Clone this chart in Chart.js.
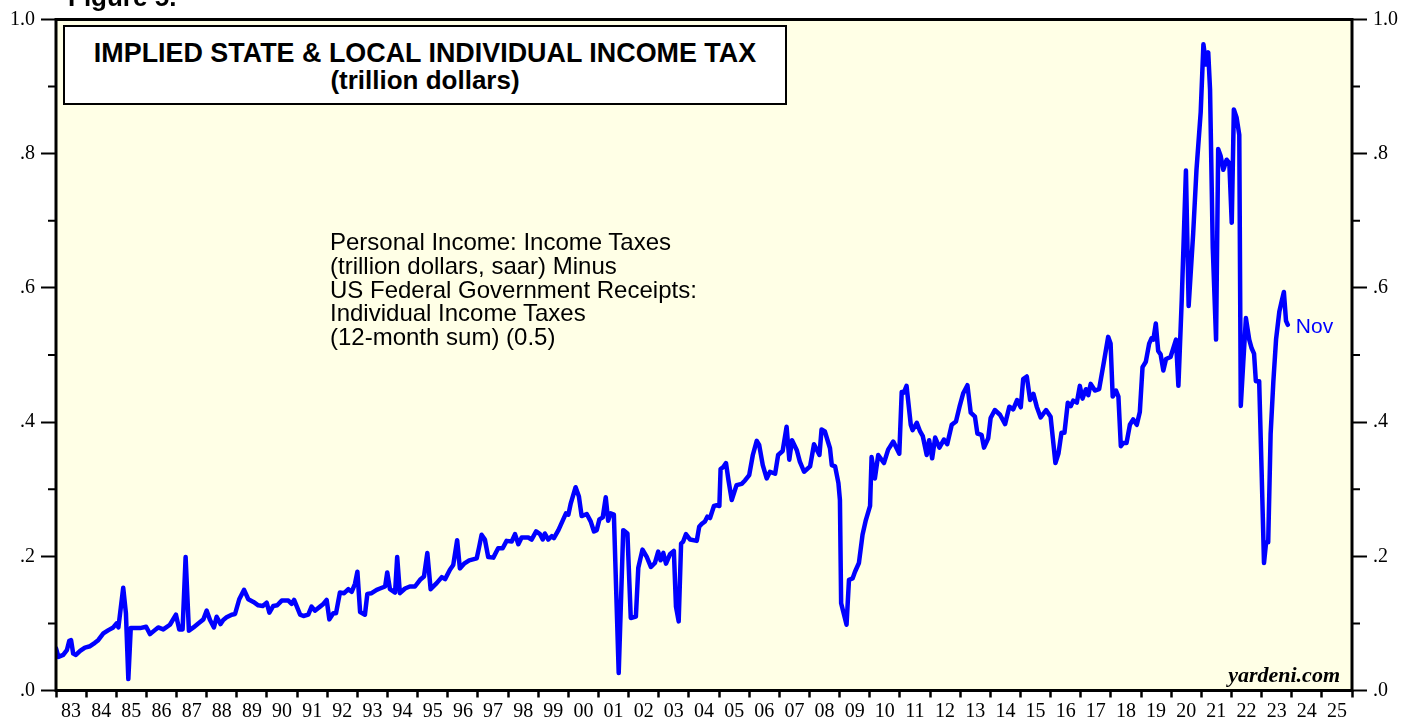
<!DOCTYPE html>
<html>
<head>
<meta charset="utf-8">
<title>Implied State & Local Individual Income Tax</title>
<script src="https://cdn.jsdelivr.net/npm/chart.js@4.4.1/dist/chart.umd.min.js"></script>
<style>
  html, body { margin: 0; padding: 0; background: #fff; }
  #wrap { position: relative; width: 1403px; height: 721px; overflow: hidden; }
  #chart { position: absolute; left: 0; top: 0; }
  .figure-label {
    position: absolute; left: 68px; top: -16px;
    font: bold 26px "Liberation Sans", Arial, sans-serif; line-height: 26px; color: #000;
  }
  .title-box {
    position: absolute; left: 63px; top: 25px; width: 724px; height: 80px;
    box-sizing: border-box; border: 2px solid #000; background: #fff;
    text-align: center; padding-top: 12.5px;
    font: bold 26px "Liberation Sans", Arial, sans-serif; line-height: 27px; color: #000;
  }
  .title-box .main { font-size: 26.9px; }
  .note {
    position: absolute; left: 330px; top: 230px;
    font: 24px "Liberation Sans", Arial, sans-serif; line-height: 23.8px; color: #000;
  }
  .source {
    position: absolute; right: 63px; top: 664px;
    font: italic bold 22px "Liberation Serif", "Times New Roman", serif; line-height: 22px; color: #000;
  }
</style>
</head>
<body>
<div id="wrap">
  <canvas id="chart" width="1403" height="721"></canvas>
  <div class="figure-label">Figure 5.</div>
  <div class="title-box"><span class="main">IMPLIED STATE &amp; LOCAL INDIVIDUAL INCOME TAX</span><br>(trillion dollars)</div>
  <div class="note">Personal Income: Income Taxes<br>(trillion dollars, saar) Minus<br>US Federal Government Receipts:<br>Individual Income Taxes<br>(12-month sum) (0.5)</div>
  <div class="source">yardeni.com</div>
</div>
<script>
// ----- DATA -----
// dates as decimal years, values in trillion dollars
const years = [
  1983.00,1983.08,1983.24,1983.36,1983.44,1983.50,1983.57,1983.66,1983.80,1983.96,
  1984.13,1984.29,1984.40,1984.57,1984.74,1984.90,1985.01,1985.07,1985.23,1985.32,
  1985.40,1985.48,1985.62,1985.79,1985.99,1986.12,1986.28,1986.39,1986.56,1986.78,
  1986.98,1987.09,1987.20,1987.30,1987.41,1987.56,1987.72,1987.89,1988.00,1988.11,
  1988.24,1988.33,1988.46,1988.55,1988.66,1988.83,1988.94,1989.08,1989.24,1989.38,
  1989.55,1989.71,1989.86,1989.99,1990.08,1990.21,1990.34,1990.49,1990.71,1990.82,
  1990.90,1991.10,1991.21,1991.37,1991.48,1991.59,1991.76,1991.87,1991.98,1992.07,
  1992.20,1992.29,1992.42,1992.56,1992.70,1992.81,1992.92,1993.00,1993.09,1993.25,
  1993.33,1993.47,1993.64,1993.75,1993.92,1993.99,1994.08,1994.25,1994.32,1994.41,
  1994.58,1994.74,1994.91,1995.08,1995.21,1995.32,1995.43,1995.63,1995.80,1995.91,
  1996.07,1996.18,1996.31,1996.40,1996.54,1996.71,1996.96,1997.04,1997.12,1997.23,
  1997.34,1997.51,1997.67,1997.82,1997.95,1998.12,1998.23,1998.34,1998.45,1998.67,
  1998.78,1998.93,1999.06,1999.15,1999.22,1999.33,1999.45,1999.52,1999.67,1999.83,
  1999.92,2000.00,2000.08,2000.24,2000.35,2000.44,2000.61,2000.74,2000.85,2000.94,
  2001.03,2001.14,2001.24,2001.32,2001.40,2001.51,2001.67,2001.82,2001.96,2002.07,
  2002.24,2002.32,2002.46,2002.60,2002.74,2002.87,2002.98,2003.06,2003.15,2003.24,
  2003.37,2003.50,2003.57,2003.66,2003.74,2003.81,2003.90,2004.04,2004.26,2004.34,
  2004.42,2004.53,2004.61,2004.70,2004.83,2004.92,2005.01,2005.05,2005.14,2005.23,
  2005.31,2005.42,2005.58,2005.75,2005.86,2006.00,2006.12,2006.25,2006.33,2006.45,
  2006.58,2006.69,2006.86,2006.96,2007.11,2007.24,2007.33,2007.42,2007.58,2007.68,
  2007.82,2008.02,2008.15,2008.33,2008.40,2008.51,2008.68,2008.74,2008.85,2008.96,
  2009.01,2009.05,2009.23,2009.31,2009.43,2009.51,2009.64,2009.76,2009.87,2010.01,
  2010.06,2010.17,2010.28,2010.47,2010.61,2010.78,2010.98,2011.06,2011.13,2011.22,
  2011.36,2011.42,2011.56,2011.67,2011.76,2011.89,2011.97,2012.07,2012.17,2012.31,
  2012.46,2012.57,2012.72,2012.86,2012.99,2013.10,2013.24,2013.35,2013.49,2013.57,
  2013.71,2013.79,2013.93,2014.01,2014.15,2014.32,2014.49,2014.63,2014.76,2014.89,
  2015.01,2015.09,2015.21,2015.32,2015.43,2015.54,2015.67,2015.85,2016.00,2016.16,
  2016.26,2016.36,2016.46,2016.57,2016.67,2016.75,2016.87,2016.97,2017.06,2017.17,
  2017.25,2017.33,2017.47,2017.61,2017.77,2017.91,2017.99,2018.06,2018.17,2018.25,
  2018.33,2018.41,2018.52,2018.63,2018.74,2018.86,2018.96,2019.05,2019.16,2019.27,
  2019.35,2019.41,2019.49,2019.57,2019.65,2019.74,2019.83,2019.98,2020.16,2020.24,
  2020.35,2020.49,2020.58,2020.73,2020.84,2020.98,2021.07,2021.16,2021.23,2021.29,
  2021.38,2021.49,2021.56,2021.64,2021.73,2021.84,2021.93,2022.01,2022.08,2022.17,
  2022.26,2022.31,2022.39,2022.48,2022.59,2022.67,2022.75,2022.81,2022.92,2023.00,
  2023.08,2023.15,2023.22,2023.30,2023.39,2023.48,2023.59,2023.67,2023.74,2023.81,
  2023.87
];

const taxValues = [
  0.063,0.050,0.053,0.060,0.074,0.075,0.055,0.053,0.059,0.064,
  0.066,0.071,0.075,0.085,0.090,0.094,0.100,0.094,0.153,0.115,
  0.017,0.093,0.093,0.093,0.095,0.084,0.090,0.094,0.091,0.098,
  0.113,0.091,0.091,0.199,0.089,0.094,0.100,0.106,0.119,0.105,
  0.094,0.110,0.099,0.105,0.109,0.113,0.114,0.136,0.150,0.136,
  0.132,0.127,0.126,0.131,0.116,0.126,0.127,0.134,0.134,0.129,
  0.135,0.113,0.111,0.113,0.125,0.119,0.125,0.129,0.135,0.106,
  0.115,0.115,0.146,0.145,0.151,0.147,0.159,0.177,0.117,0.113,
  0.144,0.145,0.150,0.152,0.155,0.176,0.151,0.146,0.199,0.145,
  0.152,0.155,0.155,0.165,0.170,0.205,0.151,0.160,0.169,0.166,
  0.180,0.187,0.224,0.182,0.189,0.194,0.197,0.214,0.232,0.225,
  0.199,0.198,0.212,0.212,0.223,0.222,0.233,0.218,0.228,0.228,
  0.225,0.237,0.233,0.225,0.234,0.225,0.230,0.227,0.239,0.255,
  0.264,0.262,0.279,0.303,0.289,0.260,0.263,0.252,0.237,0.239,
  0.255,0.258,0.288,0.253,0.264,0.262,0.026,0.239,0.234,0.108,
  0.110,0.183,0.210,0.199,0.184,0.190,0.207,0.194,0.205,0.189,
  0.203,0.208,0.125,0.103,0.219,0.222,0.233,0.225,0.223,0.244,
  0.248,0.252,0.259,0.257,0.275,0.276,0.275,0.330,0.333,0.339,
  0.314,0.284,0.306,0.308,0.313,0.321,0.351,0.372,0.366,0.336,
  0.316,0.326,0.323,0.351,0.357,0.393,0.344,0.373,0.358,0.341,
  0.326,0.334,0.367,0.351,0.389,0.386,0.361,0.336,0.334,0.309,
  0.284,0.130,0.098,0.165,0.167,0.177,0.190,0.232,0.254,0.275,
  0.348,0.316,0.351,0.339,0.359,0.371,0.353,0.445,0.444,0.454,
  0.396,0.388,0.399,0.386,0.379,0.351,0.373,0.346,0.377,0.362,
  0.374,0.367,0.396,0.401,0.425,0.443,0.455,0.414,0.408,0.383,
  0.381,0.362,0.376,0.406,0.418,0.411,0.397,0.423,0.419,0.433,
  0.422,0.464,0.468,0.433,0.442,0.423,0.407,0.418,0.408,0.339,
  0.353,0.384,0.384,0.429,0.424,0.432,0.429,0.454,0.435,0.449,
  0.440,0.457,0.447,0.449,0.490,0.527,0.517,0.438,0.447,0.438,
  0.364,0.369,0.369,0.396,0.404,0.396,0.415,0.482,0.490,0.517,
  0.525,0.523,0.547,0.506,0.501,0.477,0.494,0.497,0.523,0.454,
  0.581,0.775,0.573,0.681,0.776,0.862,0.963,0.933,0.951,0.896,
  0.660,0.523,0.807,0.797,0.776,0.791,0.786,0.697,0.866,0.854,
  0.828,0.424,0.487,0.555,0.523,0.510,0.502,0.461,0.461,0.329,
  0.190,0.221,0.221,0.382,0.460,0.523,0.565,0.581,0.594,0.551,
  0.545
];

const lastLabel = 'Nov';

// AXIS TICKS
const xFirstYear = 1983;
const xLastYear = 2026;
const xYearLabels = ['83','84','85','86','87','88','89','90','91','92','93','94','95','96','97',
  '98','99','00','01','02','03','04','05','06','07','08','09','10','11','12','13','14','15',
  '16','17','18','19','20','21','22','23','24','25'];
const yTickValues = [0, 0.1, 0.2, 0.3, 0.4, 0.5, 0.6, 0.7, 0.8, 0.9, 1.0];
const yTickLabels = ['.0', '.2', '.4', '.6', '.8', '1.0'];

// ----- STYLE -----
const LINE_BLUE = '#0000FF';
const PLOT_BG = '#FFFFE6';
const tickFont = { family: '"Liberation Serif", "Times New Roman", serif', size: 20 };

// x ticks every half year: integers carry the tick mark, half years carry the label
function buildYearTicks(scale) {
    const ticks = [];
    for (let v = xFirstYear; v <= xLastYear; v += 0.5) ticks.push({ value: v });
    scale.ticks = ticks;
}

function buildValueTicks(scale) {
    scale.ticks = yTickValues.map(v => ({ value: v }));
}

function valueAxis(position, width) {
    return {
        type: 'linear',
        position: position,
        min: 0,
        max: 1,
        afterBuildTicks: buildValueTicks,
        afterFit: s => { s.width = width; },
        border: { display: false },
        grid: {
            drawOnChartArea: false,
            drawTicks: true,
            tickLength: 15,
            tickWidth: 2,
            tickColor: c => (c.index % 2 === 0 ? '#000' : 'rgba(0,0,0,0)')
        },
        ticks: {
            autoSkip: false,
            padding: 6,
            color: '#000',
            font: tickFont,
            callback: (v, i) => (i % 2 === 0 ? yTickLabels[i / 2] : '')
        }
    };
}

// background, frame, minor ticks and the end-of-line label
const framePlugin = {
    id: 'frame',
    beforeDraw(chart) {
        const { ctx, chartArea: a } = chart;
        ctx.save();
        ctx.fillStyle = PLOT_BG;
        ctx.fillRect(a.left, a.top, a.right - a.left, a.bottom - a.top);
        ctx.restore();
    },
    afterDatasetsDraw(chart) {
        const { ctx } = chart;
        const meta = chart.getDatasetMeta(0);
        const last = meta.data[meta.data.length - 1];
        ctx.save();
        ctx.fillStyle = LINE_BLUE;
        ctx.font = '21px "Liberation Sans", Arial, sans-serif';
        ctx.textBaseline = 'middle';
        ctx.textAlign = 'left';
        ctx.fillText(lastLabel, last.x + 8, last.y + 2);
        ctx.restore();
    },
    afterDraw(chart) {
        const { ctx, chartArea: a, scales } = chart;
        ctx.save();
        ctx.strokeStyle = '#000';
        ctx.lineWidth = 3;
        ctx.strokeRect(a.left, a.top, a.right - a.left, a.bottom - a.top);

        // short minor ticks on both value axes
        ctx.lineWidth = 2;
        ctx.beginPath();
        yTickValues.forEach((v, i) => {
            if (i % 2 === 0) return;
            const y = scales.y.getPixelForValue(v);
            ctx.moveTo(a.left - 8, y);
            ctx.lineTo(a.left, y);
            ctx.moveTo(a.right, y);
            ctx.lineTo(a.right + 8, y);
        });
        ctx.stroke();
        ctx.restore();
    }
};

new Chart(document.getElementById('chart'), {
    type: 'line',
    data: {
        datasets: [{
            data: years.map((x, i) => ({ x: x, y: taxValues[i] })),
            borderColor: LINE_BLUE,
            borderWidth: 4.5,
            borderJoinStyle: 'round',
            borderCapStyle: 'round',
            pointRadius: 0,
            tension: 0,
            fill: false
        }]
    },
    options: {
        responsive: false,
        animation: false,
        layout: { padding: { top: 19.5, left: 0, right: 0, bottom: 0 } },
        plugins: {
            legend: { display: false },
            tooltip: { enabled: false }
        },
        scales: {
            x: {
                type: 'linear',
                position: 'bottom',
                min: xFirstYear,
                max: xLastYear,
                afterBuildTicks: buildYearTicks,
                afterFit: s => { s.height = 30.5; },
                border: { display: false },
                grid: {
                    drawOnChartArea: false,
                    drawTicks: true,
                    tickLength: 7,
                    tickWidth: 2.5,
                    tickColor: c => (Number.isInteger(c.tick.value) ? '#000' : 'rgba(0,0,0,0)')
                },
                ticks: {
                    autoSkip: false,
                    maxRotation: 0,
                    padding: 2,
                    color: '#000',
                    font: tickFont,
                    callback: v => (Number.isInteger(v) ? '' : (xYearLabels[Math.floor(v) - xFirstYear] || ''))
                }
            },
            y: valueAxis('left', 56),
            y2: valueAxis('right', 51)
        }
    },
    plugins: [framePlugin]
});
</script>
</body>
</html>
